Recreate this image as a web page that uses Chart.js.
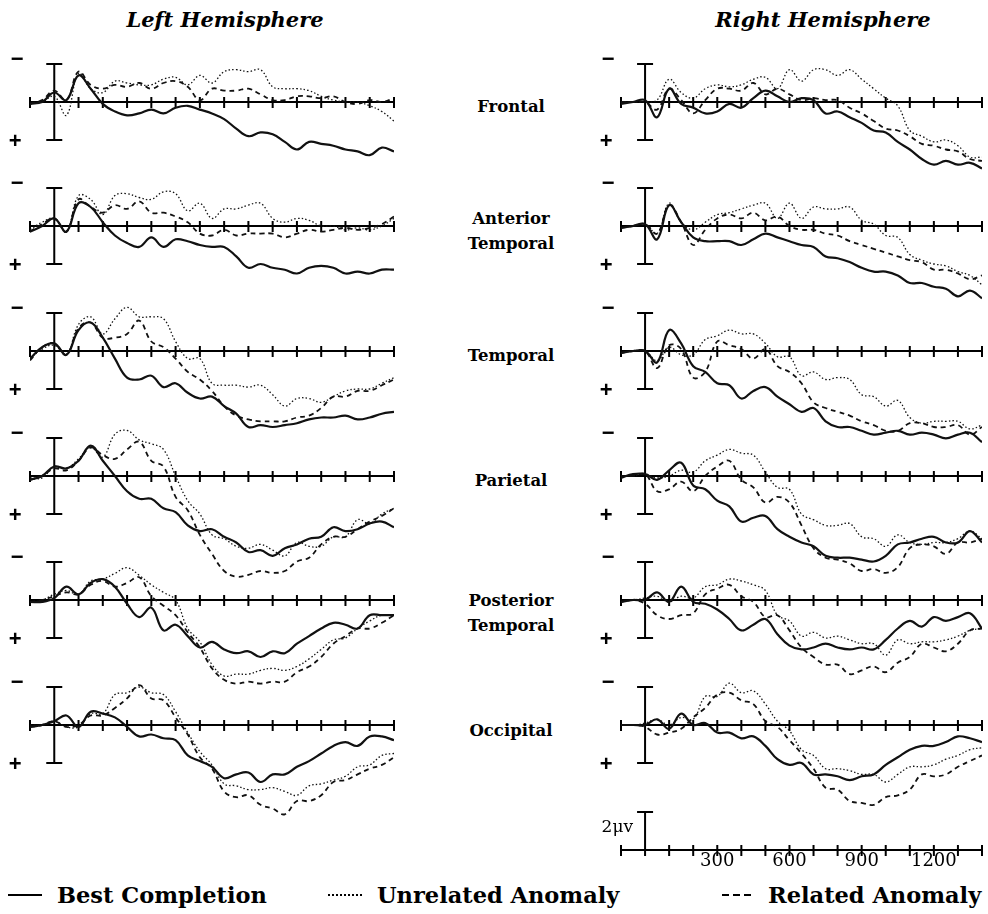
<!DOCTYPE html>
<html lang="en">
  <head>
    <meta charset="UTF-8" />
    <title>ERP: Left and Right Hemisphere</title>
    <script src="https://cdn.jsdelivr.net/npm/chart.js"></script>
    <style>
      body {
        margin: 0;
        width: 988px;
        height: 914px;
        position: relative;
        overflow: hidden;
        background: #fff;
        color: #000;
        font-family: "DejaVu Serif", serif;
      }

      canvas {
        position: absolute;
      }

      .title {
        position: absolute;
        top: 9px;
        font-size: 21px;
        line-height: 21px;
        font-weight: bold;
        font-style: italic;
        white-space: nowrap;
        transform: translateX(-50%);
      }

      .region {
        position: absolute;
        left: 511px;
        font-size: 16.5px;
        line-height: 25px;
        font-weight: bold;
        text-align: center;
        white-space: nowrap;
        transform: translate(-50%, -50%);
      }

      .legend-text {
        position: absolute;
        top: 884px;
        font-size: 22.5px;
        line-height: 23px;
        font-weight: bold;
        white-space: nowrap;
      }

      .swatch {
        position: absolute;
        top: 894px;
        height: 2px;
      }
    </style>
  </head>
  <body>
    <div class="title" style="left: 225px">Left Hemisphere</div>
    <div class="title" style="left: 823px">Right Hemisphere</div>

    <div id="regions"></div>

    <!-- legend -->
    <div class="swatch" style="left: 8px; width: 34px; background: #000"></div>
    <div class="legend-text" style="left: 57px">Best Completion</div>
    <div
      class="swatch"
      style="left: 328px; width: 34px; height: 1.5px; background: repeating-linear-gradient(90deg, #000 0 2px, transparent 2px 4px)"
    ></div>
    <div class="legend-text" style="left: 377px">Unrelated Anomaly</div>
    <div
      class="swatch"
      style="left: 722px; width: 30px; background: repeating-linear-gradient(90deg, #000 0 7px, transparent 7px 11px)"
    ></div>
    <div class="legend-text" style="left: 768px">Related Anomaly</div>

    <script>
      // time axis (ms), one sample every 50 ms
      const times = [
        -100, -50, 0, 50, 100, 150, 200, 250, 300, 350, 400, 450, 500, 550,
        600, 650, 700, 750, 800, 850, 900, 950, 1000, 1050, 1100, 1150, 1200,
        1250, 1300, 1350, 1400,
      ];
      const tickTimes = [
        -100, 0, 100, 200, 300, 400, 500, 600, 700, 800, 900, 1000, 1100,
        1200, 1300, 1400,
      ];
      const scaleLabels = [300, 600, 900, 1200];
      const regions = [
        "Frontal",
        "Anterior<br>Temporal",
        "Temporal",
        "Parietal",
        "Posterior<br>Temporal",
        "Occipital",
      ];

      // amplitudes in microvolts (positive plotted downward)
      // Left hemisphere
      const lhFrontalBest = [
        0.1, 0.0, -0.5, -0.1, -1.4, -0.7, 0.1, 0.5, 0.7, 0.6,
        0.4, 0.6, 0.3, 0.2, 0.4, 0.6, 0.9, 1.4, 1.8, 1.6,
        1.7, 2.1, 2.5, 2.1, 2.2, 2.3, 2.5, 2.6, 2.8, 2.4,
        2.6,
      ];
      const lhFrontalUnrel = [
        0.1, 0.0, -0.3, 0.7, -1.5, -0.7, -0.5, -1.1, -1.0, -0.9,
        -0.9, -1.2, -1.3, -0.9, -1.4, -1.0, -1.6, -1.7, -1.6, -1.7,
        -0.8, -0.7, -0.7, -0.6, -0.3, -0.1, 0.0, 0.0, 0.2, 0.5,
        1.0,
      ];
      const lhFrontalRel = [
        0.1, -0.1, -0.6, -0.1, -1.6, -0.9, -0.7, -0.9, -0.8, -1.0,
        -0.7, -1.0, -1.1, -0.8, -0.1, -0.7, -0.6, -0.6, -0.7, -0.4,
        -0.1, -0.1, -0.3, -0.3, -0.2, -0.3, 0.0, 0.1, -0.1, 0.0,
        -0.2,
      ];

      const lhAntTempBest = [
        0.3, 0.0, -0.4, 0.3, -1.2, -1.0, -0.2, 0.5, 0.9, 1.1,
        0.6, 1.1, 0.7, 0.8, 1.0, 1.1, 1.1, 1.6, 2.2, 2.0,
        2.2, 2.3, 2.5, 2.2, 2.1, 2.2, 2.5, 2.4, 2.5, 2.3,
        2.3,
      ];
      const lhAntTempUnrel = [
        0.2, -0.2, -0.4, 0.3, -1.6, -1.4, -0.6, -1.6, -1.7, -1.5,
        -1.4, -1.8, -1.7, -0.8, -1.2, -0.4, -0.9, -0.9, -1.1, -1.2,
        -0.4, -0.2, -0.4, -0.3, 0.0, 0.0, 0.2, 0.1, 0.2, 0.0,
        -0.4,
      ];
      const lhAntTempRel = [
        0.3, -0.1, -0.4, 0.3, -1.4, -1.0, -0.7, -1.1, -0.9, -1.3,
        -0.7, -0.7, -0.5, -0.2, 0.4, 0.5, 0.2, 0.5, 0.4, 0.4,
        0.4, 0.6, 0.4, 0.2, 0.3, 0.2, 0.1, 0.2, 0.1, -0.1,
        -0.5,
      ];

      const lhTempBest = [
        0.4, -0.2, -0.4, 0.2, -1.1, -1.5, -0.7, 0.4, 1.4, 1.5,
        1.3, 1.9, 1.7, 2.2, 2.5, 2.4, 2.9, 3.3, 4.0, 3.9,
        4.0, 3.9, 3.8, 3.6, 3.5, 3.5, 3.4, 3.6, 3.5, 3.3,
        3.2,
      ];
      const lhTempUnrel = [
        0.4, -0.1, -0.3, 0.2, -1.4, -1.8, -0.9, -1.7, -2.3, -1.8,
        -1.8, -1.7, -0.5, 0.4, 0.4, 1.7, 1.8, 1.8, 1.9, 1.8,
        2.3, 2.9, 2.5, 2.5, 2.7, 2.4, 2.1, 2.0, 2.0, 1.7,
        1.4,
      ];
      const lhTempRel = [
        0.5, -0.2, -0.4, 0.2, -1.2, -1.5, -0.7, -0.7, -0.9, -1.6,
        -0.5, -0.2, 0.4, 1.1, 1.5, 2.1, 2.9, 3.4, 3.6, 3.7,
        3.7, 3.7, 3.5, 3.4, 3.0, 2.4, 2.4, 2.1, 2.1, 1.8,
        1.5,
      ];

      const lhParBest = [
        0.2, 0.0, -0.5, -0.4, -0.8, -1.6, -0.8, 0.0, 0.8, 1.2,
        1.2, 1.7, 1.9, 2.6, 2.9, 2.8, 3.2, 3.5, 4.0, 3.9,
        4.2, 3.8, 3.6, 3.3, 3.2, 2.7, 2.9, 2.8, 2.5, 2.4,
        2.7,
      ];
      const lhParUnrel = [
        0.1, 0.1, -0.5, -0.4, -0.9, -1.5, -1.0, -2.2, -2.4, -1.9,
        -1.7, -1.4, 0.0, 1.3, 2.0, 3.1, 3.3, 3.7, 3.8, 3.6,
        3.9, 4.2, 3.5, 3.7, 3.7, 3.2, 3.2, 2.3, 2.5, 2.0,
        1.7,
      ];
      const lhParRel = [
        0.2, 0.0, -0.4, -0.3, -0.8, -1.5, -1.1, -0.9, -1.4, -1.8,
        -0.8, -0.5, 1.1, 1.8, 3.1, 4.1, 5.0, 5.3, 5.2, 5.0,
        5.1, 5.0, 4.5, 4.3, 3.6, 3.2, 3.2, 2.8, 2.4, 2.1,
        1.7,
      ];

      const lhPostTempBest = [
        0.1, 0.1, -0.1, -0.7, -0.3, -0.9, -1.1, -0.7, 0.2, 0.9,
        0.4, 1.6, 1.3, 1.9, 2.5, 2.2, 2.6, 2.8, 2.7, 3.0,
        2.7, 2.8, 2.3, 1.9, 1.5, 1.2, 1.3, 1.5, 0.8, 0.8,
        0.8,
      ];
      const lhPostTempUnrel = [
        0.1, 0.0, -0.3, -0.5, -0.3, -1.0, -1.1, -1.4, -1.7, -1.3,
        -0.8, -0.4, 0.0, 1.5, 2.2, 3.4, 4.0, 3.9, 3.9, 3.7,
        3.6, 3.7, 3.5, 3.1, 2.6, 2.1, 2.0, 1.5, 1.1, 0.8,
        0.8,
      ];
      const lhPostTempRel = [
        0.1, 0.0, -0.2, -0.4, -0.3, -0.8, -1.0, -0.7, -0.9, -1.2,
        -0.2, 0.3, 0.8, 1.7, 2.5, 3.6, 4.2, 4.4, 4.3, 4.4,
        4.3, 4.3, 3.8, 3.5, 3.0, 2.3, 1.9, 1.5, 1.5, 1.2,
        0.8,
      ];

      const lhOccBest = [
        0.1, 0.0, -0.2, -0.5, 0.1, -0.7, -0.6, -0.4, 0.1, 0.6,
        0.5, 0.7, 0.8, 1.6, 1.9, 2.2, 2.8, 2.6, 2.5, 3.0,
        2.6, 2.6, 2.2, 1.9, 1.5, 1.1, 0.9, 1.1, 0.6, 0.6,
        0.8,
      ];
      const lhOccUnrel = [
        0.0, 0.0, -0.2, 0.1, 0.1, -0.6, -0.6, -1.6, -1.7, -2.0,
        -1.7, -1.6, -0.7, 0.4, 1.4, 2.1, 3.1, 3.2, 3.4, 3.4,
        3.3, 3.5, 3.7, 3.2, 3.1, 2.9, 2.7, 2.2, 2.1, 1.6,
        1.5,
      ];
      const lhOccRel = [
        0.1, 0.0, -0.2, 0.1, 0.0, -0.5, -0.5, -0.9, -1.4, -2.1,
        -1.4, -1.3, -0.4, 0.5, 1.7, 2.3, 3.5, 3.8, 3.7, 4.2,
        4.4, 4.7, 4.0, 4.0, 3.7, 3.0, 2.9, 2.6, 2.3, 2.1,
        1.7,
      ];

      // Right hemisphere
      const rhFrontalBest = [
        0.1, 0.0, -0.1, 0.8, -0.7, 0.1, 0.3, 0.6, 0.5, 0.1,
        0.3, -0.2, -0.6, -0.3, 0.0, -0.2, -0.1, 0.6, 0.5, 0.8,
        1.1, 1.5, 1.6, 2.1, 2.5, 3.0, 3.3, 3.1, 3.3, 3.2,
        3.5,
      ];
      const rhFrontalUnrel = [
        0.0, 0.0, 0.0, -0.1, -1.2, -0.5, -0.2, -0.7, -0.9, -0.8,
        -0.9, -1.2, -1.3, -0.7, -1.7, -1.1, -1.7, -1.7, -1.4, -1.7,
        -1.2, -0.7, -0.2, 0.2, 1.5, 1.8, 2.1, 2.0, 2.3, 2.9,
        2.9,
      ];
      const rhFrontalRel = [
        0.0, 0.0, 0.0, 0.4, -0.7, -0.1, 0.6, -0.1, -0.7, -0.7,
        -0.6, -1.0, -0.4, -0.7, -0.4, -0.1, -0.2, -0.1, -0.1, 0.3,
        0.6, 1.0, 1.4, 1.5, 1.8, 2.2, 2.3, 2.5, 2.6, 3.0,
        3.1,
      ];

      const rhAntTempBest = [
        0.1, 0.0, -0.1, 0.7, -1.1, -0.2, 0.6, 0.8, 0.8, 0.8,
        1.0, 0.7, 0.4, 0.6, 0.8, 1.0, 1.1, 1.6, 1.7, 1.9,
        2.2, 2.4, 2.4, 2.6, 3.0, 3.0, 3.2, 3.3, 3.7, 3.4,
        3.8,
      ];
      const rhAntTempUnrel = [
        0.1, 0.0, -0.1, 0.4, -1.2, -0.2, 0.2, -0.2, -0.6, -0.7,
        -0.9, -1.1, -1.2, -0.4, -1.2, -0.4, -1.0, -0.9, -0.9, -1.0,
        -0.3, -0.1, 0.5, 0.6, 1.5, 1.8, 2.0, 2.1, 2.4, 2.6,
        3.1,
      ];
      const rhAntTempRel = [
        0.1, 0.0, -0.1, 0.4, -1.1, -0.2, 1.0, 0.2, -0.4, -0.6,
        -0.4, -0.7, -0.3, -0.5, 0.0, 0.2, 0.2, 0.4, 0.5, 0.8,
        1.0, 1.2, 1.4, 1.6, 1.8, 1.9, 2.3, 2.3, 2.5, 2.8,
        2.6,
      ];

      const rhTempBest = [
        0.1, 0.0, 0.0, 0.6, -1.1, -0.4, 0.8, 1.1, 1.7, 1.8,
        2.5, 2.1, 1.9, 2.4, 2.8, 3.2, 3.0, 3.7, 4.0, 4.0,
        4.2, 4.4, 4.3, 4.2, 4.4, 4.3, 4.4, 4.6, 4.4, 4.3,
        4.8,
      ];
      const rhTempUnrel = [
        0.1, 0.0, 0.0, 0.5, -0.2, 0.2, 0.2, -0.6, -0.8, -1.1,
        -0.9, -0.9, -0.4, 0.3, 0.3, 1.3, 1.1, 1.5, 1.4, 1.5,
        2.3, 2.4, 2.9, 2.6, 3.5, 3.8, 3.7, 3.7, 3.7, 4.1,
        3.9,
      ];
      const rhTempRel = [
        0.1, 0.0, 0.0, 0.9, -0.3, -0.1, 1.4, 1.1, -0.5, -0.3,
        -0.1, 0.4, -0.1, 0.8, 1.1, 1.7, 2.7, 3.0, 3.2, 3.4,
        3.7, 3.9, 4.2, 4.2, 3.8, 3.8, 4.0, 4.0, 3.9, 4.4,
        4.0,
      ];

      const rhParBest = [
        0.1, -0.1, -0.1, 0.2, -0.3, -0.7, 0.5, 0.7, 1.3, 1.6,
        2.4, 2.2, 2.1, 2.8, 3.2, 3.5, 3.7, 4.2, 4.3, 4.3,
        4.4, 4.5, 4.2, 3.6, 3.5, 3.3, 3.2, 3.5, 3.5, 2.9,
        3.5,
      ];
      const rhParUnrel = [
        0.0, 0.0, -0.1, 0.1, 0.0, -0.3, -0.2, -0.8, -1.1, -1.4,
        -1.2, -1.1, -0.2, 0.6, 0.7, 2.0, 2.3, 2.6, 2.6, 2.5,
        3.2, 3.3, 3.7, 3.1, 3.5, 3.6, 3.5, 3.5, 3.3, 2.9,
        3.3,
      ];
      const rhParRel = [
        0.0, 0.0, -0.1, 0.8, 0.7, 0.3, 0.8, 0.0, -0.5, -0.8,
        0.2, 0.6, 1.4, 1.1, 1.4, 2.6, 3.8, 4.3, 4.4, 4.6,
        5.0, 4.9, 5.1, 4.8, 3.8, 3.6, 3.7, 4.1, 3.5, 3.5,
        3.3,
      ];

      const rhPostTempBest = [
        0.1, 0.0, 0.0, -0.4, 0.1, -0.7, 0.1, 0.2, 0.5, 1.0,
        1.6, 1.3, 1.0, 1.8, 2.4, 2.6, 2.5, 2.3, 2.5, 2.6,
        2.5, 2.6, 2.1, 1.5, 1.1, 1.4, 0.9, 1.1, 0.9, 0.7,
        1.5,
      ];
      const rhPostTempUnrel = [
        0.1, 0.0, -0.1, -0.2, 0.1, -0.2, -0.1, -0.7, -0.8, -1.1,
        -1.0, -0.8, -0.5, 0.8, 1.1, 1.9, 1.7, 2.0, 1.9, 2.1,
        2.3, 2.3, 2.9, 2.1, 2.3, 2.2, 2.2, 2.1, 1.9, 1.6,
        1.5,
      ];
      const rhPostTempRel = [
        0.1, 0.0, 0.2, 0.8, 1.0, 0.8, 0.7, -0.3, -0.6, -0.8,
        -0.2, 0.1, 0.9, 0.8, 1.6, 2.5, 3.0, 3.4, 3.4, 3.9,
        3.7, 3.5, 3.8, 3.3, 3.0, 2.3, 2.5, 2.7, 2.3, 1.6,
        1.5,
      ];

      const rhOccBest = [
        0.0, 0.0, 0.0, -0.3, 0.2, -0.6, 0.0, -0.1, 0.4, 0.4,
        0.7, 0.6, 1.1, 1.8, 2.1, 2.0, 2.6, 2.6, 2.7, 2.9,
        2.7, 2.6, 2.1, 1.7, 1.3, 1.1, 1.1, 0.9, 0.6, 0.7,
        0.9,
      ];
      const rhOccUnrel = [
        0.0, 0.0, -0.1, -0.3, 0.0, -0.4, -0.3, -1.5, -1.5, -2.2,
        -1.7, -1.8, -1.1, -0.2, 0.3, 1.3, 1.6, 2.3, 2.3, 2.4,
        2.6, 2.6, 3.0, 2.6, 2.2, 2.2, 2.1, 1.8, 1.6, 1.3,
        1.2,
      ];
      const rhOccRel = [
        0.0, 0.0, 0.1, 0.5, 0.4, 0.2, -0.4, -0.9, -1.6, -1.7,
        -1.3, -1.1, -0.2, 0.1, 0.8, 1.5, 2.3, 3.3, 3.4, 4.0,
        4.1, 4.2, 3.8, 3.7, 3.4, 2.6, 2.7, 2.6, 2.2, 1.9,
        1.6,
      ];

      const leftPanels = [
        [lhFrontalBest, lhFrontalUnrel, lhFrontalRel],
        [lhAntTempBest, lhAntTempUnrel, lhAntTempRel],
        [lhTempBest, lhTempUnrel, lhTempRel],
        [lhParBest, lhParUnrel, lhParRel],
        [lhPostTempBest, lhPostTempUnrel, lhPostTempRel],
        [lhOccBest, lhOccUnrel, lhOccRel],
      ];
      const rightPanels = [
        [rhFrontalBest, rhFrontalUnrel, rhFrontalRel],
        [rhAntTempBest, rhAntTempUnrel, rhAntTempRel],
        [rhTempBest, rhTempUnrel, rhTempRel],
        [rhParBest, rhParUnrel, rhParRel],
        [rhPostTempBest, rhPostTempUnrel, rhPostTempRel],
        [rhOccBest, rhOccUnrel, rhOccRel],
      ];

      // layout (pixels)
      const PX_PER_UV = 19;
      const Y_MIN = -3;
      const Y_MAX = 7;
      const PAD_L = 30;
      const PAD_R = 8;
      const columns = [
        { x0: 30, x1: 394 },
        { x0: 621, x1: 982 },
      ];
      const baselines = [102, 226, 351, 476, 600, 725];
      const labelCenters = [106, 231, 355, 480, 613, 730];
      const scaleBaseline = 850;

      // line style per condition: best, unrelated, related
      const lineStyles = [
        { borderWidth: 2.2, borderDash: [] },
        { borderWidth: 1.3, borderDash: [1.5, 2.2] },
        { borderWidth: 1.8, borderDash: [5, 4] },
      ];

      // draws the zero line, the 100 ms ticks and the calibration bar
      const erpAxes = {
        id: "erpAxes",
        beforeDatasetsDraw(chart, args, opts) {
          const ctx = chart.ctx;
          const x = chart.scales.x;
          const y = chart.scales.y;
          const y0 = y.getPixelForValue(0);
          const bx = x.getPixelForValue(0);
          const top = y.getPixelForValue(-2);
          const bot = y.getPixelForValue(opts.full ? 2 : 0);

          ctx.save();
          ctx.strokeStyle = "#000";
          ctx.lineWidth = 2;
          ctx.beginPath();
          ctx.moveTo(x.getPixelForValue(tickTimes[0]), y0);
          ctx.lineTo(x.getPixelForValue(tickTimes[tickTimes.length - 1]), y0);
          tickTimes.forEach((t) => {
            const px = x.getPixelForValue(t);
            ctx.moveTo(px, y0 - 5);
            ctx.lineTo(px, y0 + 6);
          });
          ctx.moveTo(bx, top);
          ctx.lineTo(bx, bot);
          ctx.moveTo(bx - 8, top);
          ctx.lineTo(bx + 8, top);
          if (opts.full) {
            ctx.moveTo(bx - 8, bot);
            ctx.lineTo(bx + 8, bot);
          }
          ctx.stroke();

          ctx.fillStyle = "#000";
          ctx.textAlign = "center";
          ctx.textBaseline = "middle";
          if (opts.full) {
            ctx.font = 'bold 22px "Liberation Sans"';
            ctx.fillText("\u2212", bx - 37, top - 4);
            ctx.fillText("+", bx - 39, bot + 2);
          } else {
            ctx.font = '17px "DejaVu Serif"';
            ctx.textAlign = "right";
            ctx.fillText("2\u03bcv", bx - 12, top + 16);
            ctx.textAlign = "center";
            ctx.textBaseline = "top";
            ctx.font = '18px "DejaVu Serif"';
            scaleLabels.forEach((v) => {
              ctx.fillText(String(v), x.getPixelForValue(v), y0 + 2);
            });
          }
          ctx.restore();
        },
      };

      function makeChart(col, base, series, full) {
        const c = columns[col];
        const canvas = document.createElement("canvas");
        canvas.width = c.x1 - c.x0 + PAD_L + PAD_R;
        canvas.height = (Y_MAX - Y_MIN) * PX_PER_UV;
        canvas.style.left = c.x0 - PAD_L + "px";
        canvas.style.top = base + Y_MIN * PX_PER_UV + "px";
        document.body.appendChild(canvas);

        const datasets = series.map((vals, i) => ({
          data: times.map((t, k) => ({ x: t, y: vals[k] })),
          borderColor: "#111",
          borderWidth: lineStyles[i].borderWidth,
          borderDash: lineStyles[i].borderDash,
          pointRadius: 0,
          tension: 0.4,
          fill: false,
        }));

        return new Chart(canvas.getContext("2d"), {
          type: "line",
          data: { datasets: datasets },
          options: {
            responsive: false,
            animation: false,
            devicePixelRatio: 1,
            layout: { padding: { left: PAD_L, right: PAD_R, top: 0, bottom: 0 } },
            scales: {
              x: { type: "linear", min: -100, max: 1400, display: false },
              y: { min: Y_MIN, max: Y_MAX, reverse: true, display: false },
            },
            plugins: {
              legend: { display: false },
              tooltip: { enabled: false },
              erpAxes: { full: full },
            },
          },
          plugins: [erpAxes],
        });
      }

      baselines.forEach((base, row) => {
        makeChart(0, base, leftPanels[row], true);
        makeChart(1, base, rightPanels[row], true);
      });
      // time / amplitude scale under the right column
      makeChart(1, scaleBaseline, [], false);

      // region names in the middle column
      const regionBox = document.getElementById("regions");
      regions.forEach((name, row) => {
        const div = document.createElement("div");
        div.className = "region";
        div.style.top = labelCenters[row] + "px";
        div.innerHTML = name;
        regionBox.appendChild(div);
      });
    </script>
  </body>
</html>
